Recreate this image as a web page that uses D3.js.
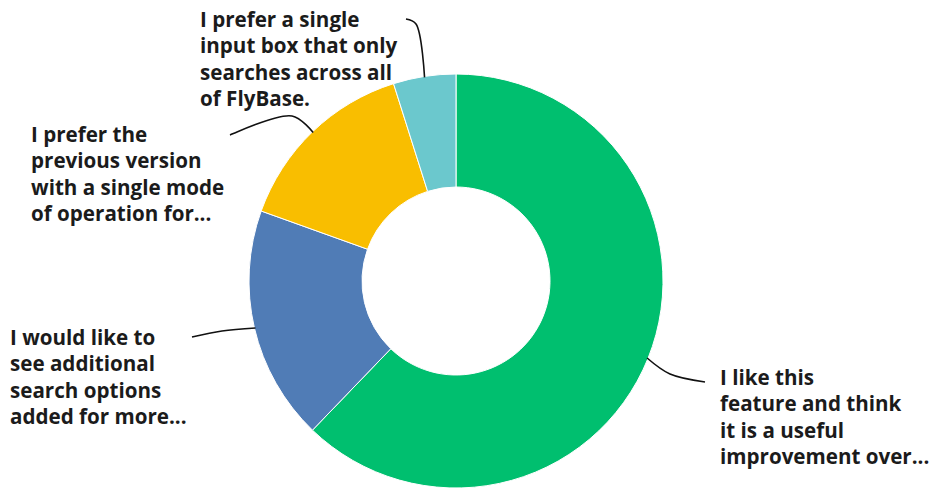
<!DOCTYPE html>
<html>
<head>
<meta charset="utf-8">
<script src="https://d3js.org/d3.v7.min.js"></script>
<style>
  body { margin: 0; background: #fff; }
  text { font-family: 'Open Sans', sans-serif; font-weight: 700; font-size: 20.6px; fill: #1b1b1b; }
</style>
</head>
<body>
<script>
// answer categories (as shown, truncated) and response counts
var categories = [
  ["I like this", "feature and think", "it is a useful", "improvement over..."],
  ["I would like to", "see additional", "search options", "added for more..."],
  ["I prefer the", "previous version", "with a single mode", "of operation for..."],
  ["I prefer a single", "input box that only", "searches across all", "of FlyBase."]
];
var counts = [51, 15, 12, 4];
var colours = ["#00bf6f", "#507cb6", "#f9be00", "#6bc8cd"];

// label block origin (x, first baseline) and where the leader meets the text
var labelAt = [[720, 385], [10, 345], [31, 142], [200, 27]];
var leaderEnd = [[705, 382], [192, 337], [230, 135], [406, 19]];
var leaderBend = [[670, 374], [222, 331], [292, 116], [416, 24]];

var W = 933, H = 490,
    cx = 456, cy = 281,
    R = 207, r = 94,
    lh = 26.3;

var svg = d3.select("body").append("svg")
  .attr("width", W)
  .attr("height", H);

var pie = d3.pie().sort(null).value(function(d){ return d; });
var arcs = pie(counts);
var arc = d3.arc().innerRadius(r).outerRadius(R);

var g = svg.append("g").attr("transform", "translate(" + cx + "," + cy + ")");

g.selectAll("path.slice")
  .data(arcs)
  .enter().append("path")
    .attr("class", "slice")
    .attr("d", arc)
    .attr("fill", function(d,i){ return colours[i]; })
    .attr("stroke", "#fff")
    .attr("stroke-width", 1);

// leader lines from the middle of each slice's outer edge
var line = d3.line().curve(d3.curveCatmullRom.alpha(0.5));
svg.selectAll("path.leader")
  .data(arcs)
  .enter().append("path")
    .attr("class", "leader")
    .attr("fill", "none")
    .attr("stroke", "#111")
    .attr("stroke-width", 1.6)
    .attr("d", function(d,i){
      var a = (d.startAngle + d.endAngle) / 2;
      var p0 = [cx + (R - 1) * Math.sin(a), cy - (R - 1) * Math.cos(a)];
      return line([p0, leaderBend[i], leaderEnd[i]]);
    });

var labels = svg.selectAll("text.label")
  .data(categories)
  .enter().append("text")
    .attr("class", "label")
    .attr("x", function(d,i){ return labelAt[i][0]; })
    .attr("y", function(d,i){ return labelAt[i][1]; });

labels.selectAll("tspan")
  .data(function(d,i){ return d.map(function(s){ return {s: s, x: labelAt[i][0]}; }); })
  .enter().append("tspan")
    .attr("x", function(d){ return d.x; })
    .attr("dy", function(d,j){ return j ? lh : 0; })
    .text(function(d){ return d.s; });
</script>
</body>
</html>
